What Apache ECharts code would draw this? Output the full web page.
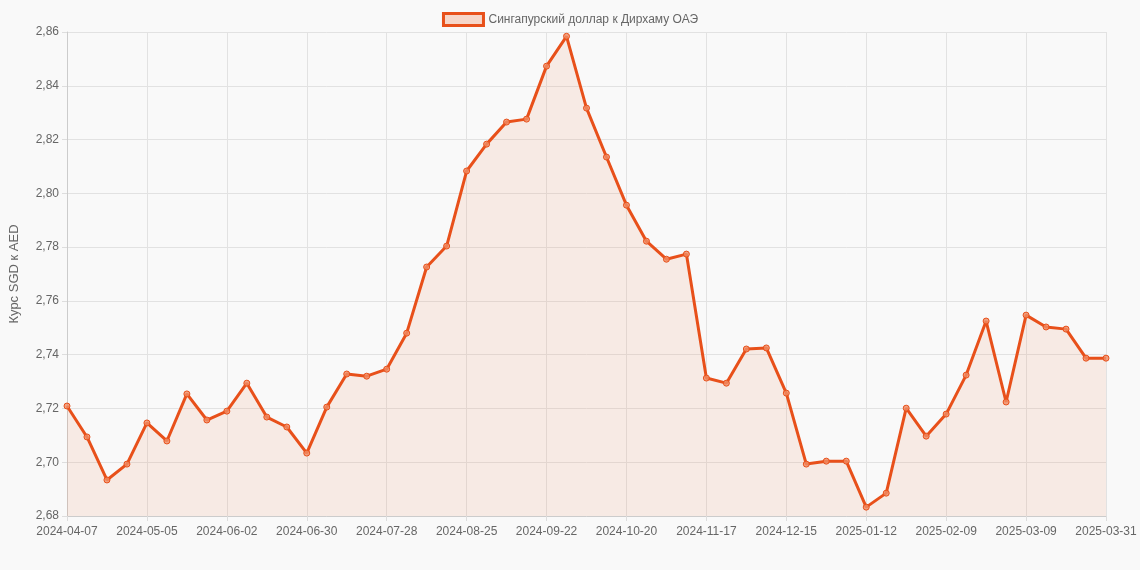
<!DOCTYPE html>
<html>
<head>
<meta charset="utf-8">
<script src="https://cdn.jsdelivr.net/npm/echarts@6/dist/echarts.min.js"></script>
<style>
  html, body { margin: 0; padding: 0; background: #f9f9f9; }
  #chart { width: 1140px; height: 570px; }
</style>
</head>
<body>
<div id="chart"></div>
<script>
// weekly dates, last point is 2025-03-31
var dates = [];
var d0 = new Date(Date.UTC(2024, 3, 7));
for (var i = 0; i < 52; i++) {
    var d = new Date(d0.getTime() + i * 7 * 86400000);
    dates.push(d.toISOString().slice(0, 10));
}
dates.push('2025-03-31');

var rates = [
    2.7209, 2.7094, 2.6934, 2.6993, 2.7146, 2.7079, 2.7254, 2.7157, 2.7190, 2.7294,
    2.7168, 2.7131, 2.7034, 2.7205, 2.7328, 2.7320, 2.7346, 2.7480, 2.7726, 2.7804,
    2.8083, 2.8183, 2.8265, 2.8276, 2.8473, 2.8584, 2.8317, 2.8135, 2.7956, 2.7822,
    2.7755, 2.7774, 2.7313, 2.7294, 2.7421, 2.7425, 2.7257, 2.6993, 2.7004, 2.7004,
    2.6833, 2.6885, 2.7201, 2.7097, 2.7179, 2.7324, 2.7525, 2.7224, 2.7547, 2.7503,
    2.7495, 2.7387, 2.7387
];

var lineColor = '#e8501a';
var myChart = echarts.init(document.getElementById('chart'));
function showTick(idx) { return idx % 4 === 0 || idx === dates.length - 1; }

var option = {
    backgroundColor: '#f9f9f9',
    textStyle: { fontFamily: 'Arial, "Liberation Sans", sans-serif' },
    animation: false,
    legend: {
        top: 7,
        left: 'center',
        icon: 'rect',
        itemWidth: 40,
        itemHeight: 12,
        textStyle: { fontSize: 12, color: '#666' },
        data: [{
            name: 'Сингапурский доллар к Дирхаму ОАЭ',
            itemStyle: { color: 'rgba(240,110,60,0.25)', borderColor: lineColor, borderWidth: 3 }
        }]
    },
    grid: { left: 62, right: 34, top: 32, bottom: 54 },
    xAxis: {
        type: 'category',
        boundaryGap: false,
        data: dates,
        axisLine: { lineStyle: { color: '#ccc' } },
        axisTick: { show: true, interval: function (i) { return showTick(i); }, lineStyle: { color: '#ddd' } },
        axisLabel: { interval: function (i) { return showTick(i); }, color: '#666', fontSize: 12, margin: 10, hideOverlap: false },
        splitLine: { show: true, interval: function (i) { return showTick(i); }, lineStyle: { color: '#e2e2e2' } }
    },
    yAxis: {
        type: 'value',
        min: 2.68,
        max: 2.86,
        interval: 0.02,
        name: 'Курс SGD к AED',
        nameLocation: 'middle',
        nameGap: 46,
        nameTextStyle: { color: '#666', fontSize: 13 },
        axisLine: { show: true, lineStyle: { color: '#ccc' } },
        axisTick: { show: true, lineStyle: { color: '#ddd' } },
        axisLabel: { color: '#666', fontSize: 12, formatter: function (v) { return v.toFixed(2).replace('.', ','); } },
        splitLine: { lineStyle: { color: '#e2e2e2' } }
    },
    series: [{
        name: 'Сингапурский доллар к Дирхаму ОАЭ',
        type: 'line',
        data: rates,
        symbol: 'circle',
        symbolSize: 6,
        lineStyle: { color: lineColor, width: 3 },
        itemStyle: { color: 'rgba(240,140,100,0.8)', borderColor: lineColor, borderWidth: 1 },
        areaStyle: { color: 'rgba(240,110,60,0.15)' }
    }]
};
myChart.setOption(option);
</script>
</body>
</html>
